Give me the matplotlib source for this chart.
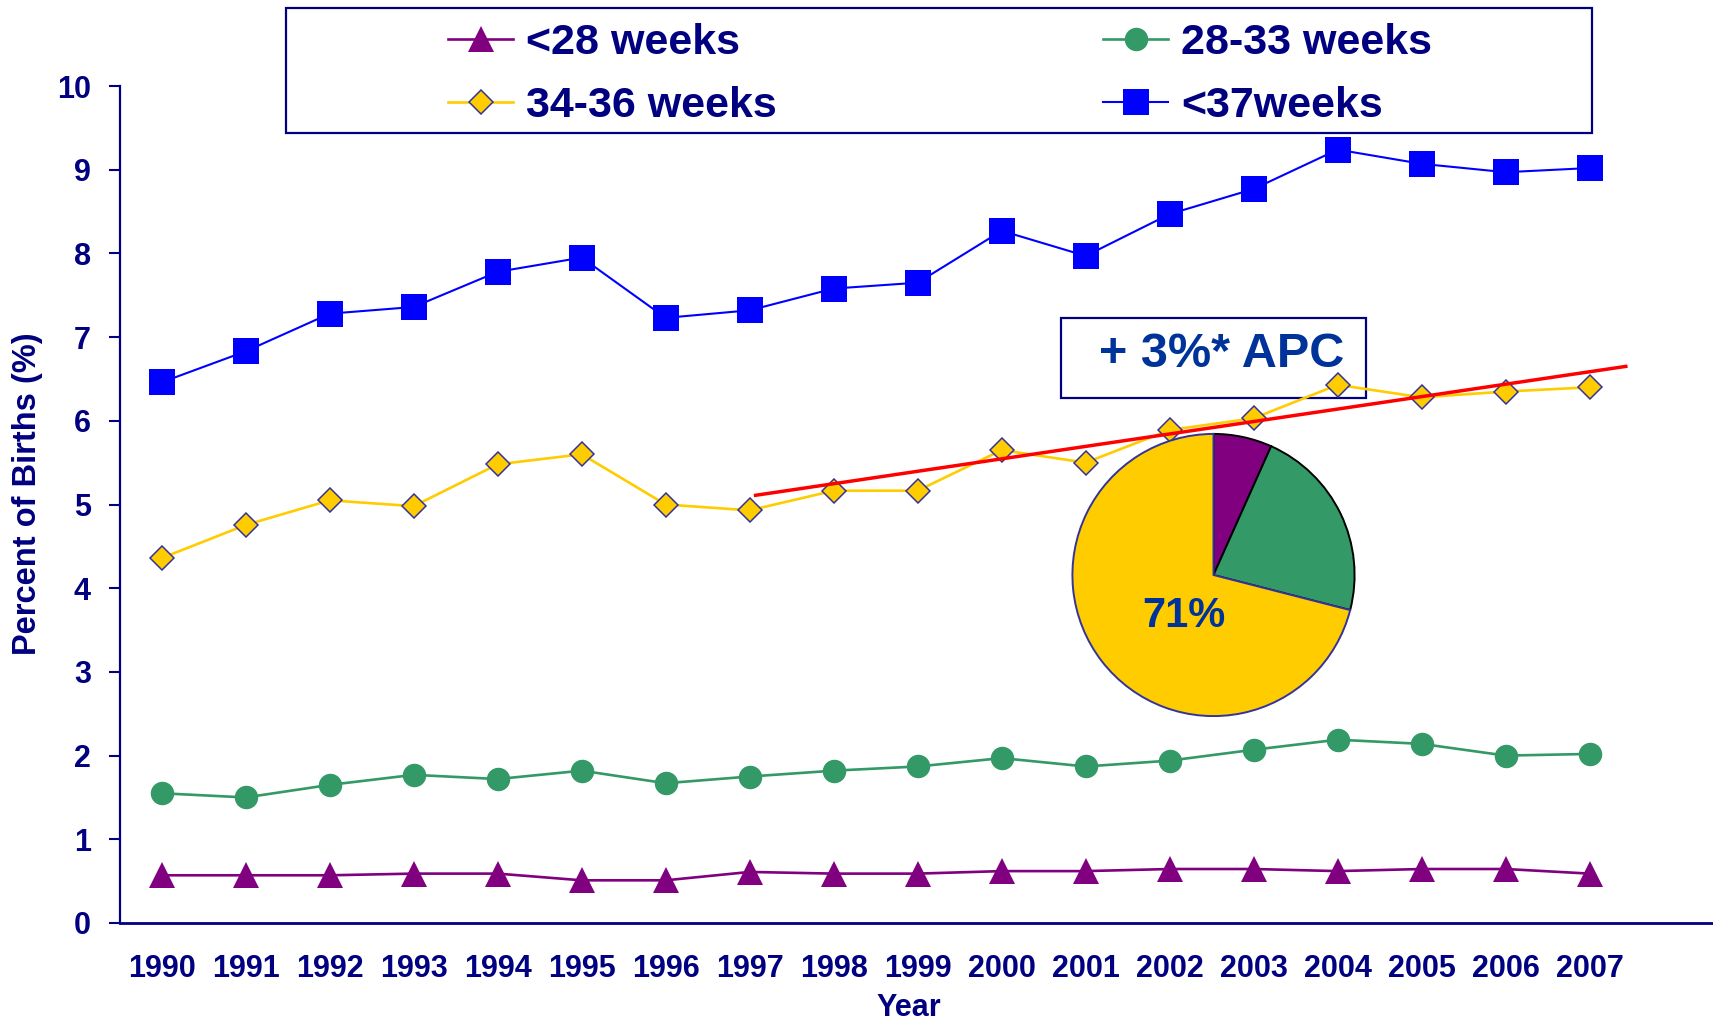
import matplotlib
matplotlib.use('Agg')
import matplotlib.pyplot as plt
from matplotlib.patches import Rectangle
from matplotlib.lines import Line2D

# ---------------- data ----------------
years = list(range(1990, 2008))
lt28 = [0.57, 0.57, 0.57, 0.59, 0.59, 0.51, 0.51, 0.61, 0.59, 0.59,
        0.62, 0.62, 0.645, 0.645, 0.62, 0.645, 0.645, 0.59]
w28_33 = [1.55, 1.50, 1.65, 1.77, 1.72, 1.82, 1.67, 1.75, 1.82, 1.87,
          1.97, 1.87, 1.94, 2.07, 2.19, 2.14, 2.00, 2.02]
w34_36 = [4.36, 4.755, 5.05, 4.98, 5.48, 5.60, 5.00, 4.93, 5.165, 5.165,
          5.65, 5.50, 5.89, 6.03, 6.43, 6.28, 6.35, 6.40]
lt37 = [6.46, 6.83, 7.28, 7.36, 7.78, 7.95, 7.23, 7.32, 7.58, 7.65,
        8.27, 7.97, 8.47, 8.77, 9.24, 9.07, 8.97, 9.02]
trend_years = [1997.07, 2007.43]
trend_values = [5.11, 6.65]
pie_labels = ['<28 weeks', '28-33 weeks', '34-36 weeks']
pie_shares = [6.7, 22.3, 71.0]
yticks = list(range(0, 11))
series_labels = ['<28 weeks', '28-33 weeks', '34-36 weeks', '<37weeks']
apc_text = '+ 3%* APC'
pie_text = '71%'

# ---------------- style ----------------
W, H = 1713, 1024
NAVY = '#000080'
TXTBLUE = '#003399'
PURPLE = '#800080'
GREEN = '#339966'
YELLOW = '#FFCC00'
BLUE = '#0000FF'
RED = '#FF0000'
FONT = ['Liberation Sans', 'DejaVu Sans']

plt.rcParams['font.family'] = FONT

fig = plt.figure(figsize=(W / 100, H / 100), dpi=100)
fig.patch.set_facecolor('white')

def fx(px):
    return px / W

def fy(py):
    return 1 - py / H

ax = fig.add_axes([fx(120), fy(923), fx(W - 120), (923 - 86) / H])
ax.set_xlim(1989.504, 2008.468)
ax.set_ylim(0, 10)

l37, = ax.plot(years, lt37, color=BLUE, lw=1.5, marker='s', ms=18.4,
               mfc=BLUE, mec=BLUE, mew=0, zorder=3)
l34, = ax.plot(years, w34_36, color=YELLOW, lw=1.9, marker='D', ms=12,
               mfc=YELLOW, mec='#333399', mew=1.1, zorder=3)
l28, = ax.plot(years, w28_33, color=GREEN, lw=1.9, marker='o', ms=16.9,
               mfc=GREEN, mec=GREEN, mew=0, zorder=3)
llt, = ax.plot(years, lt28, color=PURPLE, lw=1.9, marker='^', ms=18.7,
               mfc=PURPLE, mec=PURPLE, mew=0, zorder=3)
ax.plot(trend_years, trend_values, color=RED, lw=2.5, zorder=4)

# axes styling
for s in ['top', 'right']:
    ax.spines[s].set_visible(False)
ax.spines['left'].set_color(NAVY)
ax.spines['left'].set_linewidth(1.6)
ax.spines['bottom'].set_color(NAVY)
ax.spines['bottom'].set_linewidth(2.0)
ax.set_yticks(yticks)
ax.set_yticklabels([str(v) for v in yticks])
ax.set_xticks(years)
ax.set_xticklabels([str(y) for y in years])
ax.tick_params(axis='y', direction='out', length=8, width=1.5, color=NAVY,
               pad=13, labelsize=22, labelcolor=NAVY)
ax.tick_params(axis='x', length=0, pad=22, labelsize=22, labelcolor=NAVY)
for t in ax.get_yticklabels() + ax.get_xticklabels():
    t.set_fontweight('bold')

fig.text(fx(28), fy(494), 'Percent of Births (%)', rotation=90, ha='center',
         va='center', fontsize=23.5, fontweight='bold', color=NAVY)
fig.text(fx(909), fy(1008), 'Year', ha='center', va='center', fontsize=22,
         fontweight='bold', color=NAVY)

# legend box
fig.add_artist(Rectangle((fx(286), fy(133)), fx(1592 - 286), (133 - 7.6) / H,
                         transform=fig.transFigure, facecolor='white',
                         edgecolor=NAVY, lw=1.6, zorder=1))

def handle(line):
    return Line2D([], [], color=line.get_color(), lw=line.get_linewidth(),
                  marker=line.get_marker(), ms=line.get_markersize(),
                  mfc=line.get_markerfacecolor(), mec=line.get_markeredgecolor(),
                  mew=line.get_markeredgewidth())

legkw = dict(loc='upper left', frameon=False,
             handlelength=1.52, handletextpad=0.3, labelspacing=0.54,
             borderpad=0, borderaxespad=0, numpoints=1, labelcolor=NAVY,
             prop={'weight': 'bold', 'size': 31})
leg1 = fig.legend([handle(llt), handle(l34)], [series_labels[0], series_labels[2]],
                  bbox_to_anchor=(fx(448), fy(23)), **legkw)
leg2 = fig.legend([handle(l28), handle(l37)], [series_labels[1], series_labels[3]],
                  bbox_to_anchor=(fx(1103), fy(23)), **legkw)

# APC box
ax.add_patch(Rectangle((fx(1061), fy(398)), fx(1366 - 1061), (398 - 318) / H,
                       transform=fig.transFigure, facecolor='white',
                       edgecolor=NAVY, lw=1.6, zorder=1.5, clip_on=False))
fig.text(fx(1099), fy(367), apc_text, ha='left', va='baseline', fontsize=35,
         fontweight='bold', color=TXTBLUE, zorder=6)

# pie inset
pax = fig.add_axes([fx(1213.5 - 142.5), fy(575 + 142.5), fx(285), 285 / H])
wedges, _ = pax.pie(pie_shares, colors=[PURPLE, GREEN, YELLOW], startangle=90,
                    counterclock=False, radius=1,
                    wedgeprops=dict(linewidth=1.4, edgecolor='black'))
wedges[2].set_edgecolor('#333399')
pax.set_xlim(-1.01, 1.01)
pax.set_ylim(-1.01, 1.01)
pax.set_aspect('equal')
pax.axis('off')
fig.text(fx(1142), fy(627), pie_text, ha='left', va='baseline', fontsize=30,
         fontweight='bold', color=TXTBLUE, zorder=6)

fig.savefig('out.png', dpi=100)
